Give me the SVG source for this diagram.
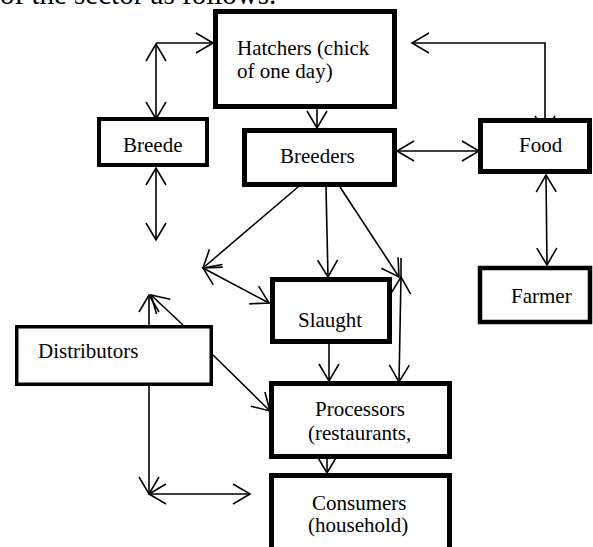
<svg xmlns="http://www.w3.org/2000/svg" width="593" height="547" viewBox="0 0 593 547">
<style>
.box{fill:#fff;stroke:#000}
.c{stroke:#000;stroke-width:1.6;fill:none}
.e{marker-end:url(#ah)}
.b{marker-start:url(#ah);marker-end:url(#ah)}
</style>
<defs>
<marker id="ah" markerUnits="userSpaceOnUse" viewBox="-19 -12 21 24" refX="0" refY="0" markerWidth="21" markerHeight="24" orient="auto-start-reverse">
<path d="M-17,-10 L0,0 L-17,10" fill="none" stroke="#000" stroke-width="1.6"/>
</marker>
</defs>
<rect width="593" height="547" fill="#fff"/>
<text x="0" y="4" font-family="Liberation Serif, Times New Roman, serif" font-size="29">of the sector as follows.</text>

<g id="connectors">
<line class="c b" x1="156" y1="119" x2="156" y2="44"/>
<line class="c e" x1="156" y1="43" x2="213" y2="43"/>
<line class="c b" x1="156" y1="168" x2="156" y2="240"/>
<line class="c e" x1="317" y1="109" x2="317" y2="128"/>
<path class="c b" d="M545,133 L545,43 L412,43"/>
<line class="c b" x1="397" y1="151" x2="479" y2="151"/>
<line class="c b" x1="546" y1="175" x2="547" y2="265"/>
<line class="c e" x1="298" y1="187" x2="203" y2="268"/>
<line class="c b" x1="203" y1="268" x2="269" y2="303"/>
<line class="c e" x1="326" y1="187" x2="328" y2="277"/>
<line class="c e" x1="340" y1="187" x2="399" y2="277"/>
<line class="c" x1="401" y1="258" x2="401" y2="277"/>
<line class="c b" x1="401" y1="277" x2="399" y2="382"/>
<line class="c e" x1="329" y1="344" x2="329" y2="381"/>
<line class="c e" x1="213" y1="355" x2="270" y2="411"/>
<line class="c e" x1="149" y1="325" x2="149" y2="295"/>
<line class="c e" x1="183" y1="325" x2="151" y2="295"/>
<line class="c e" x1="149" y1="386" x2="149" y2="494"/>
<line class="c b" x1="149" y1="494" x2="250" y2="494"/>
<line class="c e" x1="327" y1="459" x2="327" y2="473"/>
</g>

<g font-family="Liberation Serif, Times New Roman, serif" font-size="21" fill="#000">
<g id="hatchers">
<rect class="box" x="215.5" y="11.5" width="179" height="95" stroke-width="5"/>
<text x="237" y="55">Hatchers (chick</text>
<text x="237" y="78">of one day)</text>
</g>
<g id="breede">
<rect class="box" x="99" y="119" width="108" height="46" stroke-width="4"/>
<text x="123" y="152">Breede</text>
</g>
<g id="breeders">
<rect class="box" x="244.5" y="130.5" width="150" height="54" stroke-width="5"/>
<text x="280" y="163">Breeders</text>
</g>
<g id="food">
<rect class="box" x="480.5" y="120.5" width="109" height="51" stroke-width="5"/>
<text x="519" y="152">Food</text>
</g>
<g id="farmer">
<rect class="box" x="480" y="268" width="110" height="54" stroke-width="4.5"/>
<text x="511" y="303">Farmer</text>
</g>
<g id="slaught">
<rect class="box" x="272.5" y="279.5" width="117" height="62" stroke-width="5"/>
<text x="298" y="327">Slaught</text>
</g>
<g id="distributors">
<rect class="box" x="16.75" y="326.75" width="194.5" height="57.5" stroke-width="3.5"/>
<text x="38" y="358">Distributors</text>
</g>
<g id="processors">
<rect class="box" x="271.5" y="383.5" width="178" height="73" stroke-width="5"/>
<text x="315" y="416">Processors</text>
<text x="308" y="440">(restaurants,</text>
</g>
<g id="consumers">
<rect class="box" x="271.5" y="475.5" width="178" height="90" stroke-width="5"/>
<text x="312" y="510">Consumers</text>
<text x="308" y="532">(household)</text>
</g>
</g>
</svg>
